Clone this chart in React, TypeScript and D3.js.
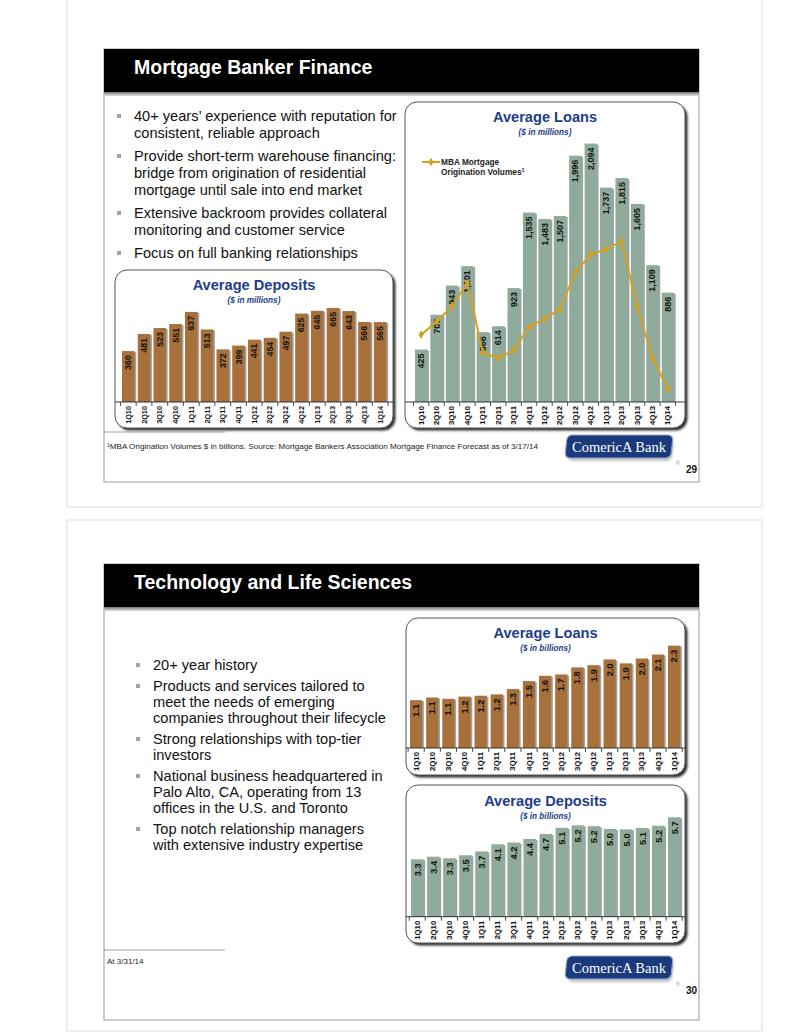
import React from 'react';
import * as d3 from 'd3';

// quarters shared by every chart
const quarters = ['1Q10', '2Q10', '3Q10', '4Q10', '1Q11', '2Q11', '3Q11', '4Q11', '1Q12', '2Q12', '3Q12', '4Q12', '1Q13', '2Q13', '3Q13', '4Q13', '1Q14'];

// Mortgage Banker Finance ($ in millions)
const mbfDeposits = [360, 481, 523, 551, 637, 513, 372, 399, 441, 454, 497, 625, 645, 665, 643, 566, 565];
const mbfLoans = [425, 707, 943, 1101, 566, 614, 923, 1535, 1483, 1507, 1996, 2094, 1737, 1815, 1605, 1109, 886];
// MBA origination volumes ($ in billions, secondary scale)
const mbaVolumes = [330, 355, 385, 430, 295, 285, 300, 345, 360, 380, 450, 485, 495, 510, 385, 285, 225];

// Technology and Life Sciences ($ in billions)
const tlsLoans = [1.08, 1.14, 1.11, 1.16, 1.18, 1.21, 1.33, 1.51, 1.63, 1.66, 1.82, 1.87, 2.0, 1.91, 2.02, 2.11, 2.31];
const tlsDeposits = [3.28, 3.43, 3.34, 3.51, 3.73, 4.14, 4.24, 4.44, 4.73, 5.08, 5.22, 5.17, 5.01, 4.99, 5.07, 5.2, 5.68];

const mbfBullets = [
  ['40+ years’ experience with reputation for', 'consistent, reliable approach'],
  ['Provide short-term warehouse financing:', 'bridge from origination of residential', 'mortgage until sale into end market'],
  ['Extensive backroom provides collateral', 'monitoring and customer service'],
  ['Focus on full banking relationships'],
];
const tlsBullets = [
  ['20+ year history'],
  ['Products and services tailored to', 'meet the needs of emerging', 'companies throughout their lifecycle'],
  ['Strong relationships with top-tier', 'investors'],
  ['National business headquartered in', 'Palo Alto, CA, operating from 13', 'offices in the U.S. and Toronto'],
  ['Top notch relationship managers', 'with extensive industry expertise'],
];

const FONT = '"Liberation Sans", Arial, Helvetica, sans-serif';
const NAVY = '#1c3d8a';
const BRONZE = '#a8703b';
const SAGE = '#8fab9b';
const GOLD = '#d6a01d';

type Box = { x: number; y: number; w: number; h: number };

const ChartBox: React.FC<{ box: Box }> = ({ box }) => (
  <g>
    <rect x={box.x + 2.5} y={box.y + 2.5} width={box.w} height={box.h} rx={12} fill="#333" filter="url(#blur)" />
    <rect x={box.x} y={box.y} width={box.w} height={box.h} rx={12} fill="#fff" stroke="#555" strokeWidth={1} />
  </g>
);

interface BarProps {
  box: Box;
  title: string;
  subtitle: string;
  titleY: number;
  values: number[];
  fmt: (v: number) => string;
  color: string;
  xRange: [number, number];
  padIn: number;
  padOut: number;
  yDomain: [number, number];
  yRange: [number, number];
  valueSize: number;
  catSize: number;
  line?: { values: number[]; domain: [number, number]; range: [number, number] };
}

const BarChart: React.FC<BarProps> = (p) => {
  const x = d3.scaleBand<string>().domain(quarters).range(p.xRange).paddingInner(p.padIn).paddingOuter(p.padOut);
  const y = d3.scaleLinear().domain(p.yDomain).range(p.yRange);
  const base = y(0);
  const bw = x.bandwidth();
  const gap = x.step() - bw;
  const first = (x(quarters[0]) || 0) - gap / 2;
  const cx = p.box.x + p.box.w / 2;

  let linePath: string | null = null;
  let y2: d3.ScaleLinear<number, number> | null = null;
  if (p.line) {
    y2 = d3.scaleLinear().domain(p.line.domain).range(p.line.range);
    const yy = y2;
    linePath = d3.line<number>()
      .x((_, i) => (x(quarters[i]) || 0) + bw / 2)
      .y(v => yy(v))(p.line.values);
  }
  const diamond = d3.symbol().type(d3.symbolDiamond).size(22)() || '';

  return (
    <g fontFamily={FONT}>
      <ChartBox box={p.box} />
      <text x={cx} y={p.titleY} textAnchor="middle" fontSize={14.6} fontWeight="bold" fill={NAVY}>{p.title}</text>
      <text x={cx} y={p.titleY + 13} textAnchor="middle" fontSize={8.2} fontWeight="bold" fontStyle="italic" fill={NAVY}>{p.subtitle}</text>
      {p.values.map((v, i) => {
        const bx = x(quarters[i]) || 0;
        return (
          <g key={quarters[i]}>
            <rect x={bx + 1.6} y={y(v) + 1} width={bw} height={base - y(v) - 1} fill="#555" opacity={0.55} />
            <rect x={bx} y={y(v)} width={bw} height={base - y(v)} fill={p.color} />
            <text transform={`translate(${bx + bw / 2},${y(v) + 4}) rotate(-90)`} textAnchor="end" dominantBaseline="central"
              fontSize={p.valueSize} fontWeight="bold" fill="#111">{p.fmt(v)}</text>
          </g>
        );
      })}
      <line x1={p.box.x} x2={p.box.x + p.box.w} y1={base} y2={base} stroke="#222" strokeWidth={0.9} />
      {d3.range(quarters.length + 1).map(i => (
        <line key={i} x1={first + i * x.step()} x2={first + i * x.step()} y1={base} y2={base + 4} stroke="#222" strokeWidth={0.8} />
      ))}
      {quarters.map(q => (
        <text key={q} transform={`translate(${(x(q) || 0) + bw / 2},${base + 4}) rotate(-90)`} textAnchor="end" dominantBaseline="central"
          fontSize={p.catSize} fontWeight="bold" fill="#111">{q}</text>
      ))}
      {linePath && y2 && p.line && (
        <g>
          <path d={linePath} fill="none" stroke={GOLD} strokeWidth={2} />
          {p.line.values.map((v, i) => (
            <path key={i} d={diamond} transform={`translate(${(x(quarters[i]) || 0) + bw / 2},${y2!(v)})`} fill={GOLD} />
          ))}
          <line x1={p.box.x + 17} x2={p.box.x + 35} y1={p.box.y + 60} y2={p.box.y + 60} stroke={GOLD} strokeWidth={2} />
          <path d={diamond} transform={`translate(${p.box.x + 26},${p.box.y + 60})`} fill={GOLD} />
          <text x={p.box.x + 36} y={p.box.y + 63} fontSize={8.3} fontWeight="bold" fill="#222">MBA Mortgage</text>
          <text x={p.box.x + 36} y={p.box.y + 73} fontSize={8.3} fontWeight="bold" fill="#222">
            Origination Volumes<tspan fontSize={5.5} dy={-3}>1</tspan>
          </text>
        </g>
      )}
    </g>
  );
};

const Bullets: React.FC<{ items: string[][]; x: number; y0: number; lead: number; gap: number }> = ({ items, x, y0, lead, gap }) => {
  let y = y0;
  const out: React.ReactNode[] = [];
  items.forEach((lines, i) => {
    if (i > 0) y += gap;
    out.push(<rect key={`b${i}`} x={x - 17} y={y - 2} width={4} height={4} fill="#a3a3a3" />);
    lines.forEach((t, j) => {
      out.push(<text key={`t${i}-${j}`} x={x} y={y + 5} fontSize={14.6} fill="#111">{t}</text>);
      y += lead;
    });
  });
  return <g fontFamily={FONT}>{out}</g>;
};

const Logo: React.FC<{ x: number; y: number; page: string }> = ({ x, y, page }) => (
  <g>
    <rect x={x + 3} y={y + 4} width={104} height={22} rx={5} fill="#888" opacity={0.5} filter="url(#blur)" transform={`skewX(-6)`} style={{ transformBox: 'fill-box', transformOrigin: 'center' }} />
    <rect x={x} y={y} width={106} height={23} rx={5} fill="#1b3a7c" stroke="#8fa4cc" strokeWidth={1.2}
      transform="skewX(-6)" style={{ transformBox: 'fill-box', transformOrigin: 'center' }} />
    <text x={x + 53} y={y + 16.5} textAnchor="middle" fontFamily='"Liberation Serif", "Times New Roman", serif' fontSize={14.5} fill="#fff">ComericA Bank</text>
    <text x={x + 110} y={y + 30} fontFamily={FONT} fontSize={5} fill="#888">®</text>
    <text x={x + 131} y={y + 38} textAnchor="end" fontFamily={FONT} fontSize={10} fontWeight="bold" fill="#111">{page}</text>
  </g>
);

const SlideFrame: React.FC<{ top: number; bottom: number; title: string }> = ({ top, bottom, title }) => (
  <g fontFamily={FONT}>
    <rect x={104} y={top} width={595} height={bottom - top} fill="#fff" stroke="#9a9a9a" strokeWidth={1} />
    <rect x={104} y={top} width={595} height={43} fill="#000" />
    <rect x={104} y={top + 43} width={595} height={4} fill="url(#rule)" />
    <text x={134} y={top + 25} fontSize={19.5} fontWeight="bold" fill="#fff">{title}</text>
  </g>
);

export default function App() {
  return (
    <svg width={799} height={1034} style={{ position: 'absolute', left: 0, top: 0, background: '#fff' }}>
      <defs>
        <filter id="blur" x="-10%" y="-10%" width="120%" height="120%">
          <feGaussianBlur stdDeviation={1.3} />
        </filter>
        <linearGradient id="rule" x1="0" y1="0" x2="0" y2="1">
          <stop offset="0" stopColor="#777" />
          <stop offset="1" stopColor="#e2e2e2" />
        </linearGradient>
      </defs>

      {/* page outlines */}
      <rect x={67} y={-4} width={695} height={511} fill="none" stroke="#dcdcdc" />
      <rect x={67} y={520} width={695} height={511} fill="none" stroke="#dcdcdc" />

      {/* slide 29 */}
      <SlideFrame top={49} bottom={482} title="Mortgage Banker Finance" />
      <Bullets items={mbfBullets} x={134} y0={116} lead={17} gap={6} />
      <BarChart box={{ x: 115, y: 270, w: 278, h: 158 }} title="Average Deposits" subtitle="($ in millions)" titleY={290}
        values={mbfDeposits} fmt={v => d3.format(',')(v)} color={BRONZE}
        xRange={[115.7, 392.8]} padIn={0.2} padOut={0.4} yDomain={[0, 700]} yRange={[402, 303]} valueSize={8.8} catSize={7.3} />
      <BarChart box={{ x: 405, y: 102, w: 280, h: 326 }} title="Average Loans" subtitle="($ in millions)" titleY={122}
        values={mbfLoans} fmt={v => d3.format(',')(v)} color={SAGE}
        xRange={[408.8, 680.2]} padIn={0.2} padOut={0.4} yDomain={[0, 2200]} yRange={[402, 130.5]} valueSize={9} catSize={7.8}
        line={{ values: mbaVolumes, domain: [200, 700], range: [402, 143] }} />
      <line x1={104} x2={225} y1={432} y2={432} stroke="#888" strokeWidth={0.8} />
      <text x={107} y={449} fontFamily={FONT} fontSize={8.1} fill="#222">
        <tspan fontSize={5} dy={-2.5}>1</tspan><tspan dy={2.5}>MBA Origination Volumes $ in billions. Source: Mortgage Bankers Association Mortgage Finance Forecast as of 3/17/14</tspan>
      </text>
      <Logo x={566} y={435} page="29" />

      {/* slide 30 */}
      <SlideFrame top={564} bottom={1020} title="Technology and Life Sciences" />
      <Bullets items={tlsBullets} x={153} y0={665} lead={16} gap={5} />
      <BarChart box={{ x: 406, y: 618, w: 279, h: 157 }} title="Average Loans" subtitle="($ in billions)" titleY={638}
        values={tlsLoans} fmt={v => v.toFixed(1)} color={BRONZE}
        xRange={[405.2, 685.1]} padIn={0.24} padOut={0.3} yDomain={[0, 2.5]} yRange={[748, 637.25]} valueSize={9.2} catSize={7.8} />
      <BarChart box={{ x: 406, y: 785, w: 279, h: 158 }} title="Average Deposits" subtitle="($ in billions)" titleY={806}
        values={tlsDeposits} fmt={v => v.toFixed(1)} color={SAGE}
        xRange={[406.2, 685.3]} padIn={0.22} padOut={0.3} yDomain={[0, 6]} yRange={[916.7, 811.7]} valueSize={9.4} catSize={7.8} />
      <line x1={104} x2={225} y1={950} y2={950} stroke="#888" strokeWidth={0.8} />
      <text x={107} y={964} fontFamily={FONT} fontSize={8} fill="#222">At 3/31/14</text>
      <Logo x={566} y={956} page="30" />
    </svg>
  );
}
